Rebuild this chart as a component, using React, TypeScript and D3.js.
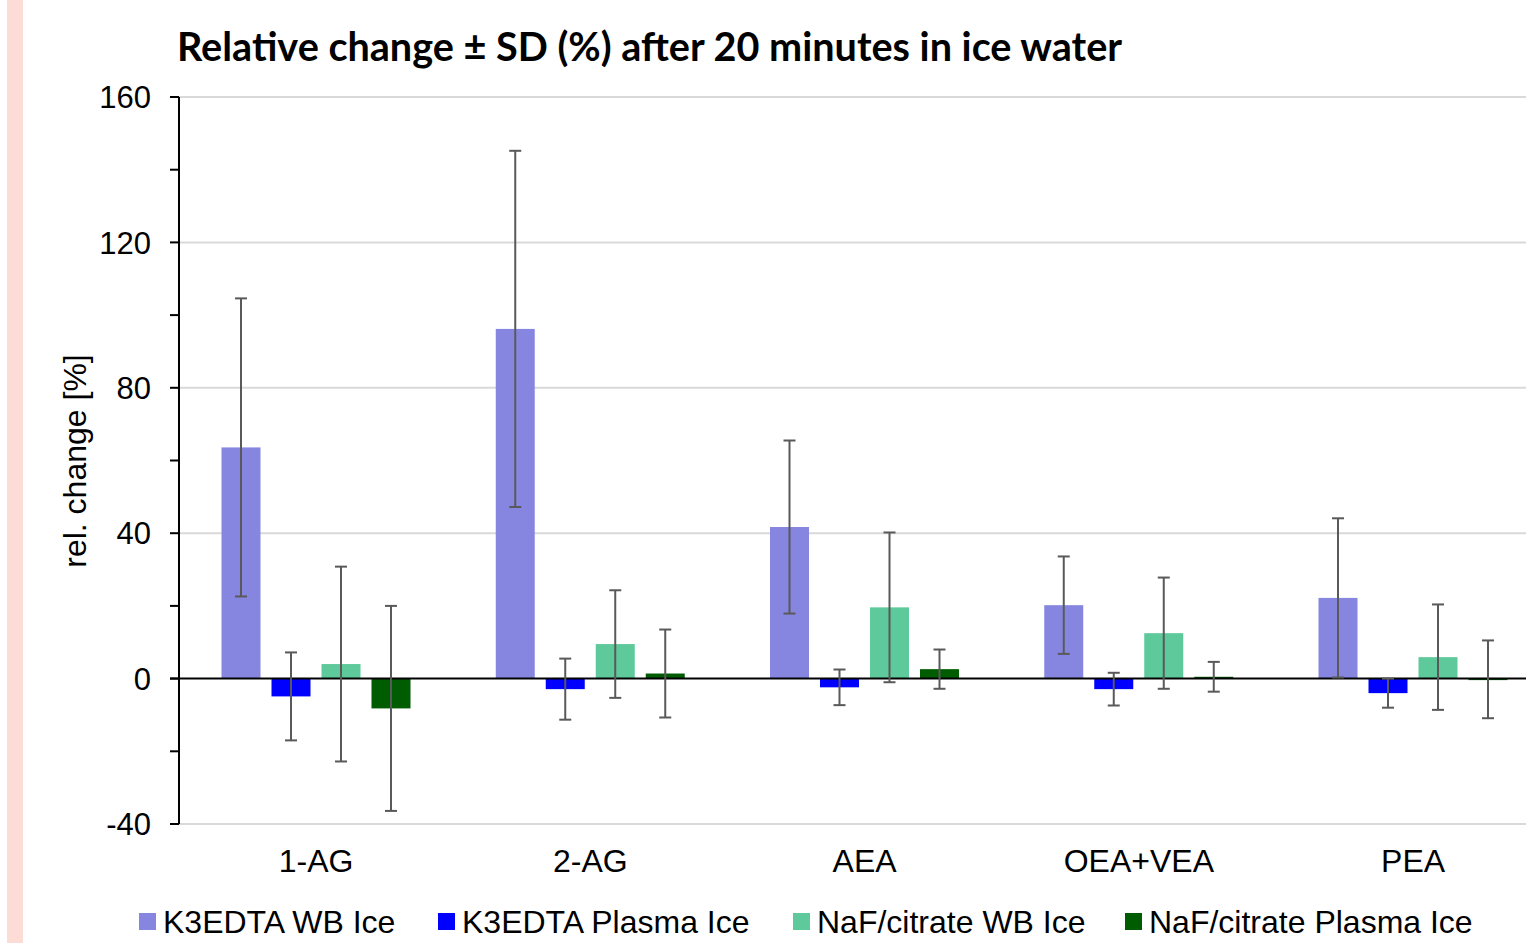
import React from "react";
import * as d3 from "d3";

const categories = ["1-AG", "2-AG", "AEA", "OEA+VEA", "PEA"];
const seriesNames = [
  "K3EDTA WB Ice",
  "K3EDTA Plasma Ice",
  "NaF/citrate WB Ice",
  "NaF/citrate Plasma Ice",
];
const seriesColors = ["#8686e0", "#0000ff", "#5ec99a", "#005c00"];

// mean relative change per series, one value per category
const k3edtaWB = [63.6, 96.2, 41.7, 20.2, 22.2];
const k3edtaPlasma = [-4.9, -2.9, -2.4, -2.9, -4.0];
const nafWB = [4.0, 9.5, 19.6, 12.5, 5.9];
const nafPlasma = [-8.2, 1.4, 2.6, 0.5, -0.2];

// standard deviations
const k3edtaWBSd = [41.0, 49.0, 23.8, 13.4, 21.9];
const k3edtaPlasmaSd = [12.1, 8.4, 4.9, 4.5, 4.0];
const nafWBSd = [26.8, 14.8, 20.6, 15.3, 14.5];
const nafPlasmaSd = [28.2, 12.1, 5.4, 4.1, 10.7];

const yTicksMajor = [-40, 0, 40, 80, 120, 160];
const yTicksMinor = [-40, -20, 0, 20, 40, 60, 80, 100, 120, 140, 160];

const title = "Relative change ± SD (%) after 20 minutes in ice water";
const yTitle = "rel. change [%]";

const values = [k3edtaWB, k3edtaPlasma, nafWB, nafPlasma];
const sds = [k3edtaWBSd, k3edtaPlasmaSd, nafWBSd, nafPlasmaSd];

export default function App() {
  const W = 1526;
  const H = 943;
  const left = 179;
  const step = 274.25;

  const x0 = d3
    .scaleBand<string>()
    .domain(categories)
    .range([left, left + step * categories.length])
    .paddingInner(0)
    .paddingOuter(0);
  const x1 = d3
    .scaleBand<string>()
    .domain(seriesNames)
    .range([37, 237])
    .paddingInner(0.22)
    .paddingOuter(0.11);
  const y = d3.scaleLinear().domain([-40, 160]).range([824, 97]);

  const axisFont = "'Liberation Sans', Arial, sans-serif";
  const bw = x1.bandwidth();
  const cap = 6;

  const legendX = [139, 438, 793, 1125];

  return (
    <svg
      width={W}
      height={H}
      style={{ position: "absolute", left: 0, top: 0, background: "#fff" }}
      fontFamily={axisFont}
    >
      <rect x={7} y={0} width={16} height={H} fill="#fddcd5" />
      <text
        x={177}
        y={61}
        fontFamily="Lato, 'Open Sans', sans-serif"
        fontWeight="bold"
        fontSize={39.6}
        fill="#000"
      >
        {title}
      </text>

      {/* gridlines */}
      {yTicksMajor
        .filter((t) => t !== 0)
        .map((t) => (
          <line
            key={"g" + t}
            x1={left}
            x2={W}
            y1={y(t)}
            y2={y(t)}
            stroke="#d9d9d9"
            strokeWidth={2}
          />
        ))}

      {/* bars */}
      {categories.map((c, ci) =>
        seriesNames.map((s, si) => {
          const v = values[si][ci];
          const bx = (x0(c) as number) + (x1(s) as number);
          const top = y(Math.max(0, v));
          const h = Math.max(1.5, Math.abs(y(v) - y(0)));
          return (
            <rect
              key={c + s}
              x={bx}
              y={top}
              width={bw}
              height={h}
              fill={seriesColors[si]}
            />
          );
        })
      )}

      {/* y axis */}
      <line x1={left} x2={left} y1={y(160)} y2={y(-40)} stroke="#000" strokeWidth={2} />
      {yTicksMinor.map((t) => (
        <line
          key={"t" + t}
          x1={170}
          x2={left}
          y1={y(t)}
          y2={y(t)}
          stroke="#000"
          strokeWidth={2}
        />
      ))}
      {yTicksMajor.map((t) => (
        <text
          key={"l" + t}
          x={151}
          y={y(t)}
          dy="0.36em"
          textAnchor="end"
          fontSize={31}
          fill="#000"
        >
          {t}
        </text>
      ))}
      {/* zero baseline */}
      <line x1={170} x2={W} y1={y(0)} y2={y(0)} stroke="#000" strokeWidth={2} />

      {/* error bars */}
      {categories.map((c, ci) =>
        seriesNames.map((s, si) => {
          const v = values[si][ci];
          const sd = sds[si][ci];
          const cx = (x0(c) as number) + (x1(s) as number) + bw / 2;
          const yt = y(v + sd);
          const yb = y(v - sd);
          return (
            <g key={"e" + c + s} stroke="#595959" strokeWidth={2}>
              <line x1={cx} x2={cx} y1={yt} y2={yb} />
              <line x1={cx - cap} x2={cx + cap} y1={yt} y2={yt} />
              <line x1={cx - cap} x2={cx + cap} y1={yb} y2={yb} />
            </g>
          );
        })
      )}

      {/* category labels */}
      {categories.map((c) => (
        <text
          key={"c" + c}
          x={(x0(c) as number) + x0.bandwidth() / 2}
          y={872}
          textAnchor="middle"
          fontSize={32}
          fill="#000"
        >
          {c}
        </text>
      ))}

      {/* y title */}
      <text
        transform={`translate(86, 461) rotate(-90)`}
        textAnchor="middle"
        fontSize={32}
        fill="#000"
      >
        {yTitle}
      </text>

      {/* legend */}
      {seriesNames.map((s, i) => (
        <g key={"lg" + s}>
          <rect x={legendX[i]} y={913} width={17} height={17} fill={seriesColors[i]} />
          <text x={legendX[i] + 24} y={933} fontSize={32} fill="#000">
            {s}
          </text>
        </g>
      ))}
    </svg>
  );
}
